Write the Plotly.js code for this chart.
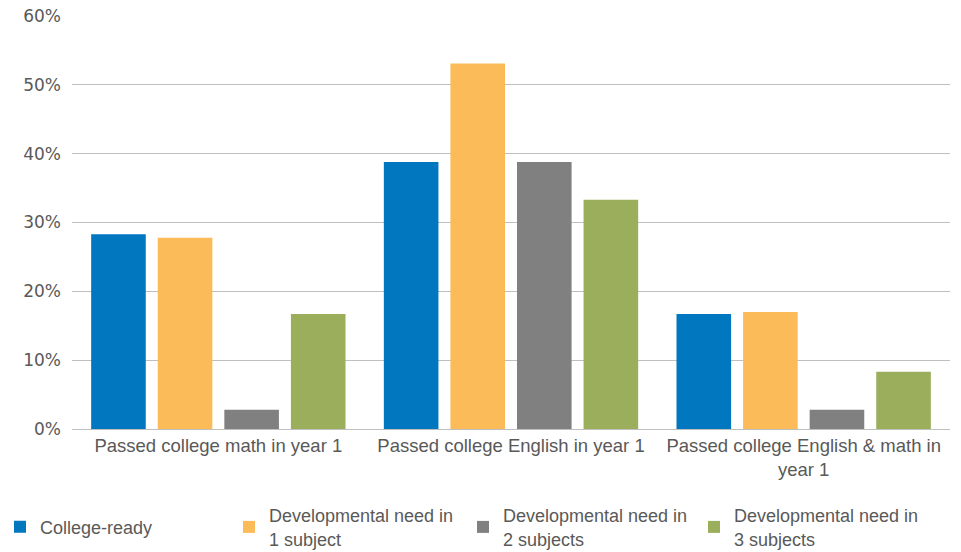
<!DOCTYPE html>
<html>
<head>
<meta charset="utf-8">
<script src="https://cdn.plot.ly/plotly-3.0.1.min.js"></script>
<style>html,body{margin:0;padding:0;background:#fff;}#chart{width:961px;height:552px;}</style>
</head>
<body>
<div id="chart"></div>
<script>
const categories = ["Passed college math in year 1", "Passed college English in year 1", "Passed college English & math in<br>year 1"];
const seriesNames = ["College-ready", "Developmental need in<br>1 subject", "Developmental need in<br>2 subjects", "Developmental need in<br>3 subjects"];
const collegeReady = [0.283, 0.388, 0.167];
const devNeed1 = [0.278, 0.531, 0.170];
const devNeed2 = [0.028, 0.388, 0.028];
const devNeed3 = [0.167, 0.333, 0.083];
const colors = ["#0077BE", "#FBBB58", "#808080", "#9AAE5B"];

const series = [collegeReady, devNeed1, devNeed2, devNeed3];
const labelFont = "'Liberation Sans', Arial, sans-serif";
const legendIds = ["legend", "legend2", "legend3", "legend4"];
const legendX = [0, 229, 463, 694];

const traces = series.map((vals, i) => ({
  type: "bar",
  x: categories,
  y: vals,
  name: seriesNames[i],
  legend: legendIds[i],
  marker: {color: colors[i]},
  hoverinfo: "y+name"
}));

const layout = {
  width: 961, height: 552,
  margin: {l: 72, r: 11, t: 16, b: 123},
  paper_bgcolor: "#fff", plot_bgcolor: "#fff",
  barmode: "group",
  bargap: 0.09,
  bargroupgap: 0.18,
  font: {family: labelFont, color: "#595959", size: 18},
  xaxis: {
    showgrid: false, showline: true, linecolor: "#BFBFBF", linewidth: 1,
    ticks: "", tickfont: {family: labelFont, size: 18.5, color: "#595959"},
    automargin: false
  },
  yaxis: {
    range: [0, 0.6], dtick: 0.1, tickformat: ".0%",
    showgrid: true, gridcolor: "#BFBFBF", gridwidth: 1,
    zeroline: false, showline: false, ticks: "",
    tickfont: {family: "'DejaVu Sans', sans-serif", size: 17, color: "#595959"},
    ticklabelstandoff: 10,
    automargin: false
  },
  showlegend: true
};

legendIds.forEach((id, i) => {
  layout[id] = {
    orientation: "h", x: legendX[i] / 961, xref: "container",
    y: (552 - 527) / 552, yref: "container",
    xanchor: "left", yanchor: "middle",
    font: {family: labelFont, size: 18, color: "#595959"},
    itemclick: false, itemdoubleclick: false, valign: "middle",
    bgcolor: "rgba(0,0,0,0)"
  };
});

Plotly.newPlot("chart", traces, layout, {displayModeBar: false, staticPlot: true});
</script>
</body>
</html>
